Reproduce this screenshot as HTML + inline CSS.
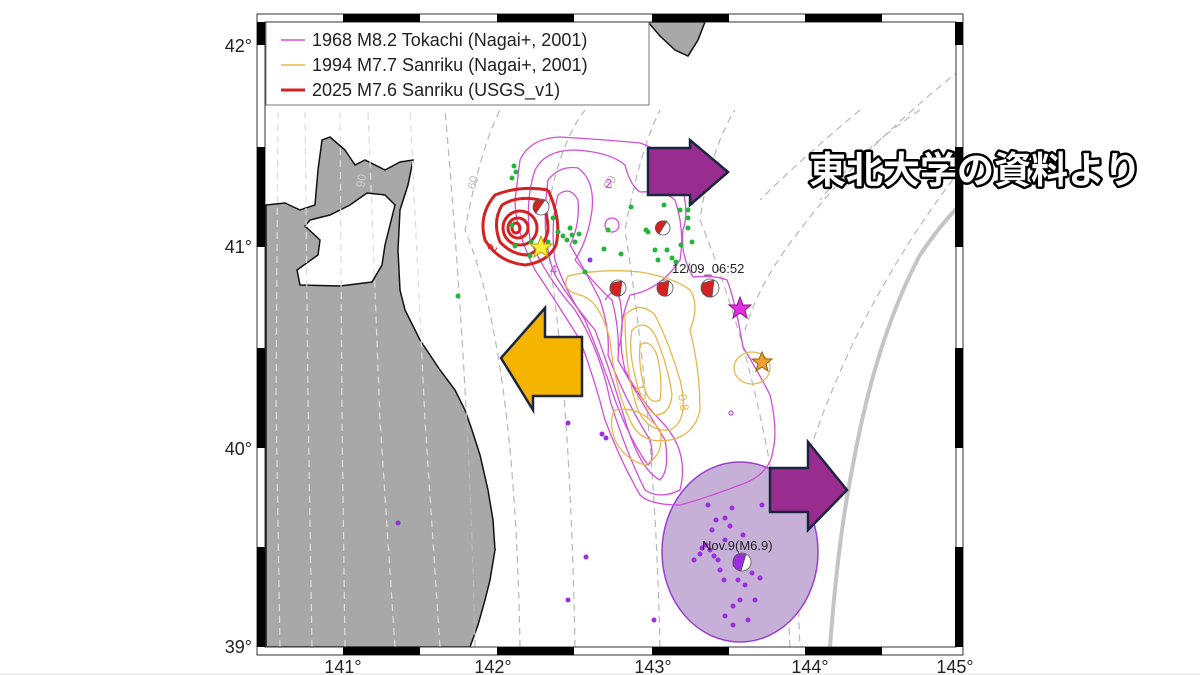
<!DOCTYPE html>
<html><head><meta charset="utf-8"><style>
html,body{margin:0;padding:0;background:#fff;width:1200px;height:675px;overflow:hidden}
svg{display:block}
text{font-family:"Liberation Sans","Noto Sans CJK JP",sans-serif}
</style></head><body>
<svg width="1200" height="675" viewBox="0 0 1200 675" xmlns="http://www.w3.org/2000/svg">
<defs><clipPath id="c"><rect x="265" y="22" width="691" height="625"/></clipPath></defs>
<rect width="1200" height="675" fill="#fff"/>
<g clip-path="url(#c)">
<path d="M266,205 L285,203 L300,210 L315,205 L318,170 L322,140 L330,137 L345,150 L355,165 L365,160 L385,170 L400,162 L413,160 L408,185 L400,210 L398,250 L400,290 L405,310 L420,340 L440,370 L455,390 L465,410 L472,430 L480,455 L488,490 L493,520 L495,550 L490,580 L485,600 L478,625 L470,647 L266,647 Z" fill="#a8a8a8" stroke="#111" stroke-width="1.5"/>
<path d="M310,220 L330,215 L350,205 L367,193 L385,195 L395,205 L390,225 L385,245 L382,265 L372,282 L340,286 L300,285 L297,270 L318,255 L320,240 L305,226 Z" fill="#fff" stroke="#111" stroke-width="1.5"/>
<path d="M648,22 L705,22 L698,40 L688,56 L675,50 L660,36 Z" fill="#a8a8a8" stroke="#111" stroke-width="1.5"/>
<g fill="none" stroke-dasharray="7,5" stroke-width="1.2">
<g stroke="#ddd">
<path d="M280,647 L276,400 L278,110"/>
<path d="M312,647 L308,400 L305,110"/>
<path d="M345,647 L342,420 L340,110"/>
<path d="M395,647 L380,420 L368,110"/>
<path d="M440,647 L425,420 L410,110"/>
</g>
<g stroke="#b8b8b8">
<path d="M475,647 Q470,400 445,110"/>
<path d="M520,647 Q515,350 465,230 Q480,150 500,110"/>
<path d="M575,647 Q570,380 545,230 Q555,150 585,110"/>
<path d="M660,647 Q655,420 625,230 Q640,150 660,110"/>
<path d="M790,647 Q780,420 700,220 Q710,150 735,110"/>
<path d="M960,170 Q860,300 810,450 Q795,560 800,647"/>
<path d="M960,70 Q860,150 800,230 Q760,280 745,330"/>
<path d="M920,110 Q860,150 820,200"/>
<path d="M860,110 Q800,160 760,200"/>
</g>
</g>
<text x="475" y="190" font-size="12" fill="#bbb" transform="rotate(-75 475 190)">60</text>
<text x="364" y="188" font-size="12" fill="#ccc" transform="rotate(-80 364 188)">90</text>
<text x="610" y="190" font-size="12" fill="#bbb" transform="rotate(-60 610 190)">90</text>
<path d="M830,647 Q838,540 852,470 Q875,340 920,255 Q940,225 960,205" fill="none" stroke="#c4c4c4" stroke-width="4"/>
<ellipse cx="740" cy="552" rx="78" ry="90" fill="#c6b0d8" stroke="#9a3fd0" stroke-width="1.5"/>
<g fill="none" stroke="#d24fd8" stroke-width="1.3">
<path d="M520,160 Q530,138 560,137 Q610,140 640,143 Q665,150 680,180 Q690,210 683,230 Q680,255 693,277 Q715,275 727,280 Q735,300 743,347 Q760,375 770,395 Q778,430 773,450 Q770,475 740,485 Q700,500 680,505 Q650,505 640,495 Q620,460 605,420 Q595,380 580,340 Q555,300 535,270 Q515,230 515,200 Z"/>
<path d="M535,170 Q545,150 575,150 Q610,152 625,165 Q630,185 640,192 Q665,190 675,200 Q685,230 680,260 Q660,290 630,295 Q615,330 625,370 Q640,400 660,420 Q690,450 680,490 Q660,500 645,490 Q625,450 610,400 Q600,350 575,310 Q545,275 530,240 Q525,200 535,170 Z"/>
<path d="M548,180 Q560,165 578,168 Q595,180 592,210 Q588,240 575,260 Q600,290 612,300 Q620,330 618,360 Q640,400 665,440 Q670,470 660,480 Q640,470 625,420 Q610,370 595,330 Q570,300 555,275 Q540,240 548,180 Z"/>
<path d="M558,195 Q570,185 578,200 Q580,225 570,245 Q585,270 600,300 Q610,330 608,355 Q625,400 650,440 Q655,460 648,465 Q630,440 615,400 Q600,355 585,320 Q565,290 555,260 Q550,225 558,195 Z"/>
<path d="M605,300 Q615,285 620,300 Q625,330 618,350"/>
<circle cx="612" cy="225" r="7"/>
<circle cx="731" cy="413" r="2"/>
</g>
<text x="605" y="188" font-size="13" fill="#d24fd8">2</text>
<text x="550" y="274" font-size="13" fill="#d24fd8">4</text>
<g fill="none" stroke="#e8b64a" stroke-width="1.3">
<path d="M568,276 Q600,268 640,272 Q675,278 690,290 Q700,305 690,330 Q700,370 700,410 Q695,435 670,440 Q640,445 630,420 Q615,390 610,340 Q600,300 580,295 Q560,290 568,276 Z"/>
<path d="M625,315 Q640,300 655,315 Q670,345 680,380 Q690,420 670,430 Q648,432 638,410 Q625,375 625,315 Z"/>
<path d="M632,330 Q645,318 655,335 Q668,365 672,395 Q670,415 655,415 Q642,405 636,380 Q628,350 632,330 Z"/>
<path d="M640,345 Q650,338 657,355 Q663,380 660,400 Q650,405 645,390 Q638,365 640,345 Z"/>
<path d="M615,410 Q640,405 660,430 Q665,455 645,465 Q625,460 615,440 Q608,420 615,410 Z"/>
<ellipse cx="752" cy="368" rx="18" ry="16"/>
</g>
<text x="635" y="385" font-size="12" fill="#e8b64a" transform="rotate(80 635 385)">1.2</text>
<text x="678" y="395" font-size="12" fill="#e8b64a" transform="rotate(80 678 395)">0.8</text>
<g fill="none" stroke="#d42222" stroke-width="3">
<path d="M548,190 Q520,185 495,195 Q478,215 485,240 Q498,262 525,265 Q548,262 556,245 Q562,220 548,190"/>
<path d="M540,200 Q518,195 502,205 Q492,222 500,242 Q512,255 528,255 Q545,248 548,230 Q548,212 540,200"/>
<ellipse cx="520" cy="228" rx="17" ry="17"/>
<ellipse cx="518" cy="228" rx="10" ry="10"/>
<ellipse cx="516" cy="228" rx="4" ry="5"/>
</g>
<text x="490" y="250" font-size="13" fill="#d42222" transform="rotate(-60 495 248)">2</text>
<g fill="#22b53a">
<circle cx="514" cy="166" r="2.5"/><circle cx="516" cy="172" r="2.5"/><circle cx="512" cy="178" r="2.5"/>
<circle cx="553" cy="218" r="2.5"/><circle cx="558" cy="232" r="2.5"/><circle cx="563" cy="236" r="2.5"/><circle cx="567" cy="240" r="2.5"/><circle cx="572" cy="235" r="2.5"/><circle cx="575" cy="242" r="2.5"/><circle cx="570" cy="228" r="2.5"/><circle cx="579" cy="234" r="2.5"/><circle cx="548" cy="242" r="2.5"/><circle cx="531" cy="242" r="2.5"/><circle cx="530" cy="256" r="2.5"/><circle cx="512" cy="225" r="2.5"/><circle cx="515" cy="246" r="2.5"/>
<circle cx="631" cy="207" r="2.5"/><circle cx="664" cy="205" r="2.5"/><circle cx="608" cy="230" r="2.5"/><circle cx="646" cy="230" r="2.5"/><circle cx="648" cy="232" r="2.5"/><circle cx="604" cy="249" r="2.5"/><circle cx="621" cy="254" r="2.5"/><circle cx="585" cy="272" r="2.5"/><circle cx="655" cy="250" r="2.5"/><circle cx="667" cy="250" r="2.5"/><circle cx="680" cy="210" r="2.5"/><circle cx="688" cy="210" r="2.5"/><circle cx="691" cy="203" r="2.5"/><circle cx="688" cy="228" r="2.5"/><circle cx="681" cy="245" r="2.5"/><circle cx="692" cy="242" r="2.5"/><circle cx="672" cy="258" r="2.5"/><circle cx="676" cy="262" r="2.5"/><circle cx="658" cy="260" r="2.5"/><circle cx="688" cy="218" r="2.5"/><circle cx="458" cy="296" r="2.5"/>
</g>
<g fill="#9a2fe0">
<circle cx="590" cy="260" r="2.5"/><circle cx="568" cy="423" r="2.5"/><circle cx="602" cy="434" r="2.5"/><circle cx="398" cy="523" r="2.5"/><circle cx="586" cy="557" r="2.5"/><circle cx="568" cy="600" r="2.5"/><circle cx="654" cy="620" r="2.5"/><circle cx="606" cy="438" r="2.5"/>
<circle cx="702" cy="548" r="2.5"/><circle cx="706" cy="545" r="2.5"/><circle cx="710" cy="550" r="2.5"/><circle cx="714" cy="556" r="2.5"/><circle cx="718" cy="560" r="2.5"/><circle cx="700" cy="554" r="2.5"/><circle cx="712" cy="530" r="2.5"/><circle cx="716" cy="520" r="2.5"/><circle cx="708" cy="505" r="2.5"/><circle cx="725" cy="518" r="2.5"/><circle cx="730" cy="526" r="2.5"/><circle cx="725" cy="540" r="2.5"/><circle cx="735" cy="565" r="2.5"/><circle cx="720" cy="570" r="2.5"/><circle cx="724" cy="580" r="2.5"/><circle cx="738" cy="580" r="2.5"/><circle cx="745" cy="585" r="2.5"/><circle cx="740" cy="600" r="2.5"/><circle cx="733" cy="606" r="2.5"/><circle cx="725" cy="616" r="2.5"/><circle cx="733" cy="625" r="2.5"/><circle cx="748" cy="620" r="2.5"/><circle cx="755" cy="600" r="2.5"/><circle cx="760" cy="578" r="2.5"/><circle cx="752" cy="573" r="2.5"/><circle cx="743" cy="535" r="2.5"/><circle cx="762" cy="505" r="2.5"/><circle cx="694" cy="560" r="2.5"/><circle cx="732" cy="508" r="2.5"/>
</g>
<g stroke="#555" stroke-width="0.8">
<circle cx="541" cy="207" r="8" fill="#fff"/><path d="M538,200 A8,8 0 0 0 536,213 L545,200 Z" fill="#d42222"/>
<circle cx="663" cy="228" r="7" fill="#fff"/><path d="M661,221 A7,7 0 0 0 659,234 L667,221 Z" fill="#d42222"/>
<circle cx="618" cy="288" r="8" fill="#fff"/><path d="M612,283 A8,8 0 0 0 620,296 L622,281 Z" fill="#d42222"/>
<circle cx="665" cy="288" r="8" fill="#fff"/><path d="M659,283 A8,8 0 0 0 667,296 L669,281 Z" fill="#d42222"/>
<circle cx="710" cy="288" r="9" fill="#fff"/><path d="M703,283 A9,9 0 0 0 712,297 L714,280 Z" fill="#d42222"/>
<circle cx="742" cy="562" r="9" fill="#fff"/><path d="M738,554 A9,9 0 0 0 741,571 L746,554 Z" fill="#9a2fe0"/>
</g>
<text x="672" y="273" font-size="13" fill="#222">12/09_06:52</text>
<text x="702" y="550" font-size="13" fill="#222">Nov.9(M6.9)</text>
<polygon points="541,236 544,244 552,244 546,249 548,257 541,252 534,257 536,249 530,244 538,244" fill="#f8ef3a" stroke="#b8a000" stroke-width="1"/>
<polygon points="740,297 743,305 751,305 745,310 747,318 740,313 733,318 735,310 729,305 737,305" fill="#e030e0" stroke="#901090" stroke-width="1"/>
<polygon points="762,352 765,359 772,359 766,364 768,371 762,367 756,371 758,364 752,359 759,359" fill="#f0a030" stroke="#906010" stroke-width="1"/>
<polygon points="648,148 690,148 690,140 728,172 690,205 690,195 648,195" fill="#992c8f" stroke="#1c2540" stroke-width="2.5"/>
<polygon points="770,468 808,468 808,442 847,490 808,530 808,512 770,512" fill="#992c8f" stroke="#1c2540" stroke-width="2.5"/>
<polygon points="582,337 545,337 545,308 501,358 533,410 533,396 582,396" fill="#f5b400" stroke="#1c2540" stroke-width="2.5"/>
<rect x="266" y="22" width="383" height="83" fill="#fff" stroke="#777" stroke-width="1"/>
<line x1="281" y1="40" x2="305" y2="40" stroke="#d24fd8" stroke-width="1.5"/>
<line x1="281" y1="65" x2="305" y2="65" stroke="#e8b64a" stroke-width="1.5"/>
<line x1="281" y1="90" x2="305" y2="90" stroke="#d42222" stroke-width="3"/>
<text x="312" y="46" font-size="18" fill="#222">1968 M8.2 Tokachi (Nagai+, 2001)</text>
<text x="312" y="71" font-size="18" fill="#222">1994 M7.7 Sanriku (Nagai+, 2001)</text>
<text x="312" y="96" font-size="18" fill="#222">2025 M7.6 Sanriku (USGS_v1)</text>
</g>
<g>
<rect x="257" y="14" width="706" height="641" fill="none" stroke="#333" stroke-width="1"/>
<rect x="265" y="22" width="691" height="625" fill="none" stroke="#333" stroke-width="1"/>
<g fill="#000">
<rect x="343" y="14" width="77" height="8"/><rect x="497" y="14" width="77" height="8"/><rect x="652" y="14" width="77" height="8"/><rect x="805" y="14" width="77" height="8"/>
<rect x="343" y="647" width="77" height="8"/><rect x="497" y="647" width="77" height="8"/><rect x="652" y="647" width="77" height="8"/><rect x="805" y="647" width="77" height="8"/>
<rect x="257" y="22" width="8" height="23"/><rect x="257" y="147" width="8" height="100"/><rect x="257" y="348" width="8" height="100"/><rect x="257" y="547" width="8" height="100"/>
<rect x="955" y="22" width="8" height="23"/><rect x="955" y="147" width="8" height="100"/><rect x="955" y="348" width="8" height="100"/><rect x="955" y="547" width="8" height="100"/>
</g>
</g>
<g font-size="18" fill="#222" text-anchor="end">
<text x="252" y="52">42°</text><text x="252" y="253">41°</text><text x="252" y="455">40°</text><text x="252" y="653">39°</text>
</g>
<g font-size="18" fill="#222" text-anchor="middle">
<text x="343" y="673">141°</text><text x="493" y="673">142°</text><text x="653" y="673">143°</text><text x="810" y="673">144°</text><text x="955" y="673">145°</text>
</g>
<line x1="0" y1="674" x2="1200" y2="674" stroke="#ddd"/>
<text x="809" y="183" font-size="37" font-weight="bold" fill="#fff" stroke="#000" stroke-width="5" paint-order="stroke" stroke-linejoin="round" style="font-family:'Noto Sans CJK JP',sans-serif">東北大学の資料より</text>
</svg>
</body></html>
